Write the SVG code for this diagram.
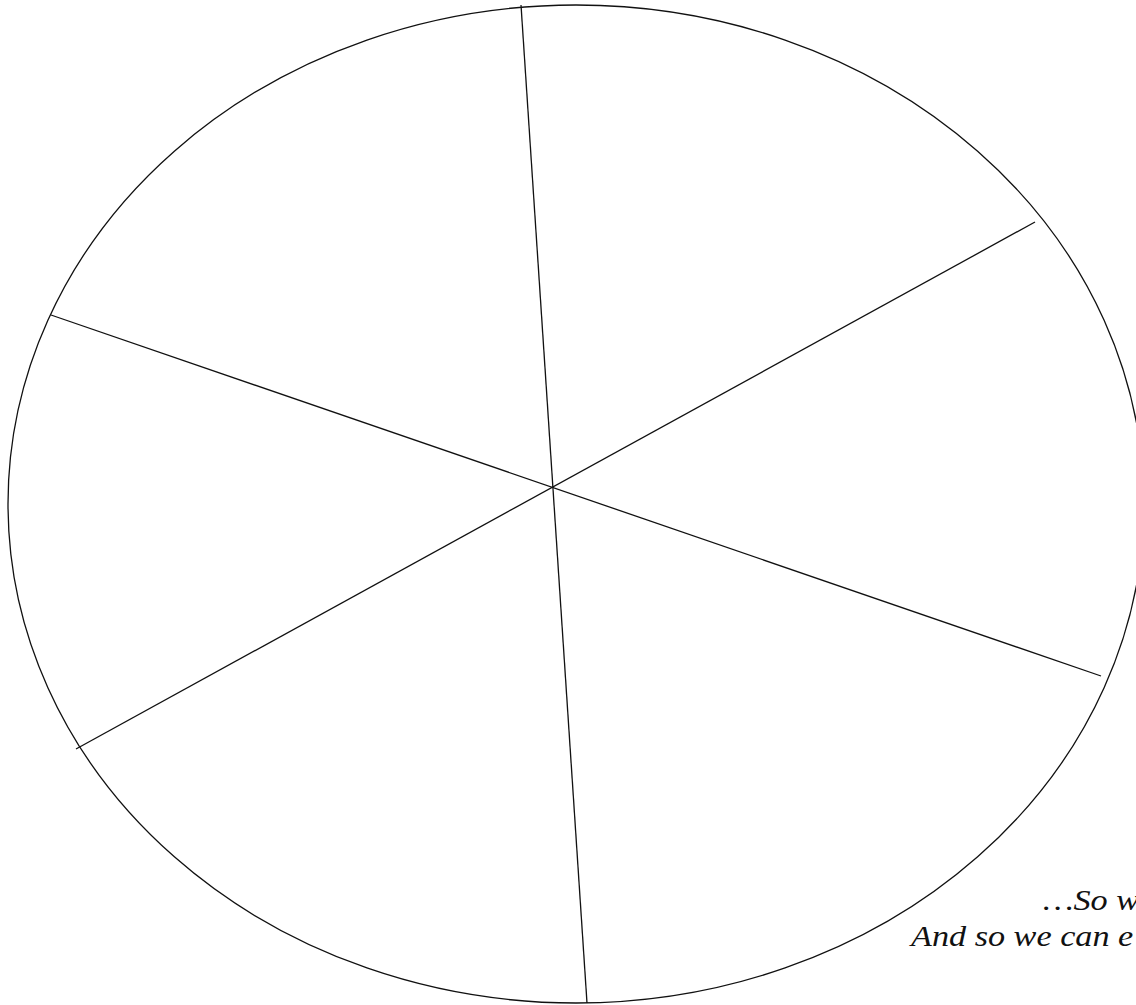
<svg xmlns="http://www.w3.org/2000/svg" width="1136" height="1005" viewBox="0 0 1136 1005">
  <style>
    .rim { fill: none; stroke: #111; stroke-width: 1.3; }
    .spoke { stroke: #111; stroke-width: 1.3; fill: none; }
    .txt { font-family: "Liberation Serif", "Times New Roman", serif; font-style: italic; font-size: 29px; fill: #111; }
  </style>
  <rect width="1136" height="1005" fill="#fff"/>
  <g id="wheel">
    <ellipse class="rim" cx="576" cy="504" rx="568" ry="499"/>
  </g>
  <g id="spokes">
    <line class="spoke" x1="521" y1="5" x2="587" y2="1003" stroke-width="1.8"/>
    <line class="spoke" x1="1035" y1="222" x2="76" y2="749"/>
    <line class="spoke" x1="51" y1="315" x2="1101" y2="676"/>
  </g>
  <g id="caption">
    <text class="txt" transform="translate(1043,910) scale(1.18,1)">…So w</text>
    <text class="txt" transform="translate(911,946) scale(1.18,1)">And so we can e</text>
  </g>
</svg>
